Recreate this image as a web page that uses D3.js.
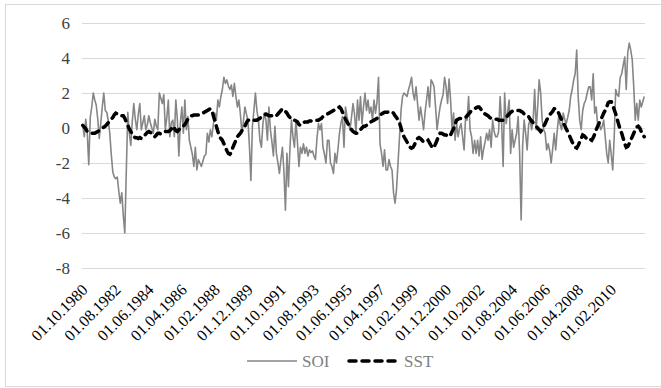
<!DOCTYPE html>
<html>
<head>
<meta charset="utf-8">
<script src="https://cdn.jsdelivr.net/npm/d3@7"></script>
<style>
  body { margin: 0; background: #fff; }
  text { font-family: "Liberation Serif", "Times New Roman", serif; }
</style>
</head>
<body>
<div id="chart"></div>
<script>
// monthly values, 01.10.1980 .. 01.12.2011 (one row per year)
var soi = [
    0.2, -0.5, 0.5,
    -0.3, -2.1, 0.6, 1.2, 2.0, 1.6, 1.3, 0.5, -0.6, 0.3, 1.2, 2.0,
    1.0, 0.9, 0.4, -0.3, -1.5, -2.5, -2.8, -2.9, -2.8, -3.6, -4.3, -3.7,
    -5.0, -6.0, -2.5, 0.9, -0.3, -1.0, 0.4, 1.4, 0.5, -0.1, 0.8, 1.4,
    -0.1, 0.3, 0.7, -0.1, 0.2, 0.7, 0.3, 0.0, -0.3, 0.5, 0.1, -0.1,
    2.0, 1.7, 1.4, 1.9, -0.1, 0.6, 1.6, -0.5, 0.3, 0.45, -0.5, 1.6,
    0.5, -1.6, 0.3, 1.2, -0.3, 1.6, -0.1, 0.65, -0.7, -1.1, -1.5, -2.2,
    -1.1, -2.4, -1.8, -2.0, -2.2, -1.9, -1.6, -1.5, -0.3, -0.8, -0.1, -0.5,
    0.2, 0.85, 0.45, 1.6, 1.2, 1.8, 2.2, 2.9, 2.55, 2.75, 2.4, 2.2,
    2.45, 1.8, 2.55, 1.8, 1.2, 1.6, 0.8, -0.3, 0.4, 1.2, 0.8, 0.45,
    -1.0, -3.0, 0.1, 1.0, 2.0, 1.0, 0.45, -0.7, -1.1, 0.25, 0.85, 0.45,
    -0.7, 1.2, -0.1, -0.8, -1.6, 0.1, -1.45, -2.0, -2.6, -1.8, -1.1, -2.5,
    -4.7, -1.45, -3.35, -1.2, 0.45, -0.5, -1.1, 0.45, -0.8, -2.2, -1.1, -1.45,
    -0.9, -1.45, -1.1, -1.6, -1.25, -1.4, -1.3, -1.6, -1.8, -0.6, 0.25, -0.1,
    0.25, -1.1, -1.5, -2.0, -0.7, -0.7, -2.0, -2.2, -2.6, -1.45, -2.0, -1.2,
    -0.3, 0.3, 0.65, -1.1, 1.2, 0.65, 0.3, -0.1, 0.6, 1.4, 0.8, -0.3,
    1.6, 0.45, 1.8, 0.25, 1.2, 2.0, 1.0, 1.6, 0.85, 1.2, 0.45, 1.6,
    0.85, 1.5, 2.9, -0.9, -1.45, -2.2, -1.25, -2.4, -2.4, -1.8, -2.2, -2.4,
    -3.7, -4.3, -3.5, -2.0, -0.5, 1.0, 1.8, 2.0, 1.9, 1.8, 2.2, 2.5,
    2.9, 2.0, 1.6, 2.35, 1.4, 0.45, 1.2, 0.6, -0.1, 0.9, 1.6, 2.35,
    1.2, 2.75, 2.6, 2.35, 1.2, -0.1, 0.6, 1.2, 1.6, 1.9, 2.9, 2.35,
    1.4, 2.8, 1.6, -0.1, 0.85, -0.7, 0.25, -0.5, 0.0, 0.25, -0.5, -1.25,
    0.65, 0.45, 1.8, -0.1, -0.5, -1.45, -0.7, -1.45, -0.7, -1.6, -0.5, -1.8,
    -1.2, -0.8, -0.3, -0.7, -0.1, -1.1, 0.45, -0.2, -0.5, -0.5, -0.2, 1.8,
    0.3, -2.2, 2.0, 0.25, 0.9, 1.6, -1.45, -0.1, -1.1, -0.7, -0.3, 0.65,
    -1.45, -5.25, -1.0, 0.45, -0.3, -1.25, 0.2, 0.45, -0.1, 0.45, 2.2, -0.1,
    1.2, 2.75, 2.0, 0.45, -0.1, -0.3, -1.25, -0.9, -1.3, -2.0, -1.2, -0.3,
    -1.25, -0.2, 0.65, 0.2, -0.1, 0.85, 0.5, 0.25, 0.6, 1.0, 1.8, 2.2,
    2.75, 3.1, 4.45, 1.8, 0.45, -0.1, 1.0, 1.4, 1.6, 2.0, 2.35, 2.35,
    1.6, 3.1, 0.85, 1.2, 0.1, 0.3, -0.1, 0.1, 0.45, -0.5, -1.45, -2.0,
    -0.7, -1.5, -2.4, -0.5, 2.2, 1.9, 1.8, 2.9, 3.1, 3.6, 4.05, 2.2,
    4.3, 4.85, 4.45, 3.9, 2.35, 0.45, 1.4, 0.45, 1.6, 1.2, 1.5, 1.8
];

var sst = [
    0.15, 0.05, -0.05,
    -0.2, -0.25, -0.3, -0.3, -0.3, -0.3, -0.25, -0.2, -0.15, -0.05, 0.0, 0.05,
    0.1, 0.2, 0.3, 0.4, 0.5, 0.6, 0.75, 0.85, 0.8, 0.75, 0.7, 0.7,
    0.7, 0.55, 0.35, 0.15, -0.05, -0.2, -0.35, -0.5, -0.55, -0.55, -0.6, -0.55,
    -0.6, -0.55, -0.45, -0.35, -0.25, -0.2, -0.25, -0.35, -0.45, -0.5, -0.4, -0.3,
    -0.3, -0.35, -0.3, -0.25, -0.2, -0.2, -0.2, -0.15, -0.05, 0.1, 0.0, -0.15,
    -0.2, -0.1, 0.0, 0.05, 0.1, 0.2, 0.35, 0.5, 0.65, 0.7, 0.7, 0.75,
    0.75, 0.75, 0.75, 0.8, 0.85, 0.85, 0.9, 0.95, 1.0, 1.05, 1.1, 1.0,
    0.7, 0.4, 0.1, -0.2, -0.5, -0.6, -0.7, -0.9, -1.1, -1.3, -1.45, -1.5,
    -1.4, -1.1, -0.9, -0.7, -0.5, -0.4, -0.3, -0.15, -0.1, 0.1, 0.3, 0.45,
    0.45, 0.45, 0.4, 0.45, 0.45, 0.45, 0.5, 0.55, 0.65, 0.7, 0.75, 0.8,
    0.75, 0.7, 0.7, 0.7, 0.7, 0.65, 0.7, 0.8, 0.9, 1.0, 1.1, 1.05,
    0.95, 0.85, 0.7, 0.6, 0.5, 0.45, 0.45, 0.4, 0.35, 0.2, 0.15, 0.25,
    0.3, 0.35, 0.35, 0.35, 0.4, 0.4, 0.45, 0.45, 0.45, 0.45, 0.45, 0.5,
    0.55, 0.65, 0.7, 0.75, 0.8, 0.85, 0.9, 0.95, 1.0, 1.05, 1.1, 1.15,
    1.2, 1.1, 0.9, 0.7, 0.5, 0.35, 0.2, 0.05, -0.1, -0.2, -0.25, -0.3,
    -0.3, -0.2, -0.1, 0.0, 0.1, 0.1, 0.15, 0.2, 0.25, 0.35, 0.4, 0.45,
    0.5, 0.55, 0.6, 0.7, 0.8, 0.85, 0.9, 0.9, 0.9, 0.95, 0.95, 0.9,
    0.85, 0.7, 0.6, 0.45, 0.3, 0.0, -0.3, -0.5, -0.65, -0.8, -1.0, -1.1,
    -1.15, -1.1, -0.95, -0.75, -0.6, -0.55, -0.6, -0.7, -0.8, -0.8, -0.75, -0.7,
    -0.85, -1.0, -1.15, -1.1, -0.9, -0.7, -0.45, -0.3, -0.3, -0.35, -0.4, -0.4,
    -0.45, -0.5, -0.4, -0.2, -0.05, 0.2, 0.45, 0.5, 0.55, 0.55, 0.55, 0.55,
    0.6, 0.7, 0.8, 0.9, 1.0, 1.05, 1.1, 1.15, 1.2, 1.2, 1.1, 0.95,
    0.85, 0.8, 0.75, 0.7, 0.6, 0.55, 0.55, 0.55, 0.5, 0.5, 0.45, 0.45,
    0.45, 0.45, 0.5, 0.6, 0.7, 0.8, 0.9, 0.95, 1.0, 1.0, 1.0, 1.0,
    1.0, 0.95, 0.9, 0.8, 0.75, 0.7, 0.65, 0.5, 0.4, 0.3, 0.2, 0.1,
    0.0, -0.1, -0.2, -0.1, 0.1, 0.25, 0.45, 0.6, 0.75, 0.85, 0.95, 1.1,
    1.1, 1.0, 0.85, 0.65, 0.45, 0.3, 0.15, -0.05, -0.2, -0.4, -0.6, -0.8,
    -0.95, -1.1, -1.15, -1.0, -0.8, -0.6, -0.4, -0.45, -0.55, -0.65, -0.7, -0.65,
    -0.7, -0.55, -0.35, -0.1, 0.1, 0.3, 0.45, 0.65, 0.85, 1.0, 1.2, 1.45,
    1.5, 1.5, 1.3, 1.05, 0.8, 0.5, 0.2, -0.1, -0.3, -0.6, -0.9, -1.1,
    -1.05, -0.9, -0.7, -0.5, -0.3, -0.1, 0.05, 0.1, 0.0, -0.2, -0.4, -0.5
];

var tickLabels = ["01.10.1980", "01.08.1982", "01.06.1984", "01.04.1986", "01.02.1988",
    "01.12.1989", "01.10.1991", "01.08.1993", "01.06.1995", "01.04.1997", "01.02.1999",
    "01.12.2000", "01.10.2002", "01.08.2004", "01.06.2006", "01.04.2008", "01.02.2010"];
var yTicks = [-8, -6, -4, -2, 0, 2, 4, 6];
var seriesNames = ["SOI", "SST"];

var fmt = d3.timeFormat("%d.%m.%Y");
var categories = d3.timeMonth.range(new Date(1980, 9, 1), new Date(1980, 9 + soi.length, 1)).map(fmt);

var margin = {top: 23, right: 16, bottom: 120, left: 82};
var W = 661, H = 388;
var width = W - margin.left - margin.right;
var height = H - margin.top - margin.bottom;

var svg = d3.select("#chart")
    .append("svg")
    .attr("width", W)
    .attr("height", H);

// chart frame
svg.append("rect")
    .attr("x", 5.5)
    .attr("y", 4.5)
    .attr("width", 660)
    .attr("height", 382)
    .attr("fill", "none")
    .attr("stroke", "#d9d9d9");

var graph = svg.append("g")
    .attr("transform", "translate(" + margin.left + "," + margin.top + ")");

var x = d3.scaleBand()
    .domain(categories)
    .range([0, width]);

var y = d3.scaleLinear()
    .domain([-8, 6])
    .range([height, 0]);

// gridlines
graph.selectAll(".grid")
    .data(yTicks)
    .enter()
    .append("line")
    .attr("x1", 0)
    .attr("x2", width)
    .attr("y1", function (d) { return Math.round(y(d)) + 0.5; })
    .attr("y2", function (d) { return Math.round(y(d)) + 0.5; })
    .attr("stroke", "#d9d9d9")
    .attr("stroke-width", 1);

// y labels
graph.selectAll(".ylab")
    .data(yTicks)
    .enter()
    .append("text")
    .attr("x", -12)
    .attr("y", function (d) { return y(d); })
    .attr("dy", "0.35em")
    .attr("text-anchor", "end")
    .attr("font-size", "17px")
    .attr("fill", "#404040")
    .text(function (d) { return d; });

// x labels, rotated
graph.selectAll(".xlab")
    .data(tickLabels)
    .enter()
    .append("text")
    .attr("transform", function (d) {
        var cx = x(d) + x.bandwidth() / 2;
        return "translate(" + (cx + 2) + "," + (height + 19) + ") rotate(-45)";
    })
    .attr("text-anchor", "end")
    .attr("dy", "0.35em")
    .attr("font-size", "16px")
    .attr("fill", "#000")
    .text(function (d) { return d; });

var line = function (values) {
    return d3.line()
        .x(function (d, i) { return x(categories[i]) + x.bandwidth() / 2; })
        .y(function (d) { return y(d); })(values);
};

graph.append("path")
    .attr("d", line(soi))
    .attr("fill", "none")
    .attr("stroke", "#868686")
    .attr("stroke-width", 1.6)
    .attr("stroke-linejoin", "round");

graph.append("path")
    .attr("d", line(sst))
    .attr("fill", "none")
    .attr("stroke", "#000")
    .attr("stroke-width", 3.5)
    .attr("stroke-dasharray", "7,6")
    .attr("stroke-linecap", "round");

// legend
var legend = svg.append("g");
var lx = [247, 349];
seriesNames.forEach(function (name, i) {
    legend.append("line")
        .attr("x1", lx[i])
        .attr("x2", lx[i] + 50)
        .attr("y1", 361)
        .attr("y2", 361)
        .attr("stroke", i == 0 ? "#868686" : "#000")
        .attr("stroke-width", i == 0 ? 1.6 : 3.5)
        .attr("stroke-dasharray", i == 0 ? null : "7,6")
        .attr("stroke-linecap", i == 0 ? "butt" : "round");
    legend.append("text")
        .attr("x", lx[i] + 55)
        .attr("y", 361)
        .attr("dy", "0.35em")
        .attr("font-size", "17px")
        .attr("fill", "#7f7f7f")
        .text(name);
});
</script>
</body>
</html>
